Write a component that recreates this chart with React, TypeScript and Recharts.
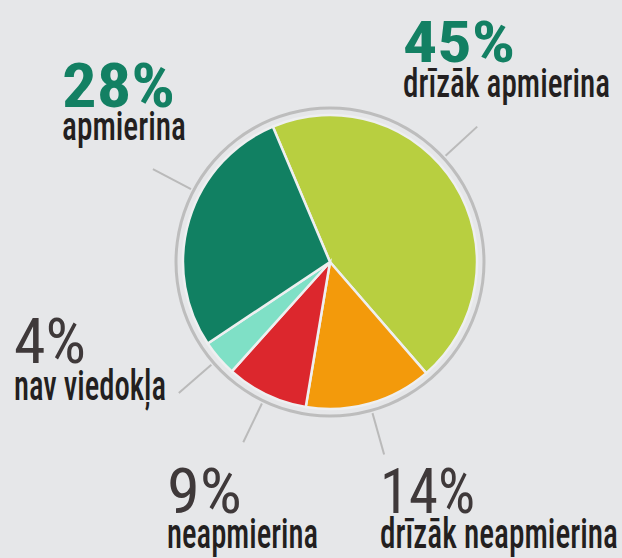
import React from 'react';
import { PieChart, Pie, Cell } from 'recharts';

// survey answers, clockwise from the top
const categories = ['drīzāk apmierina', 'drīzāk neapmierina', 'neapmierina', 'nav viedokļa', 'apmierina'];
const shares = [45, 14, 9, 4, 28];
const percentLabels = ['45%', '14%', '9%', '4%', '28%'];

const ringData = [{ name: 'ring', value: 100 }];

const COLORS = ['#b8cf40', '#f39a0b', '#dc272d', '#7fe0c6', '#118062'];
const BG = '#e6e7e9';
const LINE = '#bababa';
const FONT = "'Liberation Sans Narrow', 'Roboto Condensed', Roboto, 'DejaVu Sans Condensed', sans-serif";

// label placement per slice (text boxes, widths, leader angle nudge)
const LAYOUT = [
  { shift: 10.7, px: 403, py: 62, pw: 112, ps: 57, pc: '#138063', pwt: 700, tx: 403, ty: 97, tw: 207, ts: 40 },
  { shift: 0, px: 380, py: 513, pw: 95, ps: 63, pc: '#3f393a', pwt: 400, tx: 380, ty: 548, tw: 238, ts: 42 },
  { shift: 0, px: 167, py: 513, pw: 75, ps: 63, pc: '#3f393a', pwt: 400, tx: 167, ty: 548, tw: 151, ts: 42 },
  { shift: 0, px: 14, py: 363, pw: 72, ps: 63, pc: '#3f393a', pwt: 400, tx: 14, ty: 400, tw: 152, ts: 42 },
  { shift: -11, px: 62, py: 107, pw: 113, ps: 62, pc: '#138063', pwt: 700, tx: 62, ty: 140, tw: 124, ts: 40 },
];

const data = categories.map((name, i) => ({ name, value: shares[i], pct: percentLabels[i] }));

if (typeof document !== 'undefined') {
  document.body.style.margin = '0';
  document.body.style.background = BG;
}

const RADIAN = Math.PI / 180;

const renderLabel = (props: any) => {
  const { cx, cy, midAngle, index } = props;
  const l = LAYOUT[index];
  const a = (midAngle + l.shift) * RADIAN;
  const x1 = cx + 157 * Math.cos(a);
  const y1 = cy - 157 * Math.sin(a);
  const x2 = cx + 200 * Math.cos(a);
  const y2 = cy - 200 * Math.sin(a);
  return (
    <g key={`lbl-${index}`}>
      <line x1={x1} y1={y1} x2={x2} y2={y2} stroke={LINE} strokeWidth={2} />
      <text
        x={l.px}
        y={l.py}
        fill={l.pc}
        fontSize={l.ps}
        fontWeight={l.pwt}
        fontFamily={FONT}
        textLength={l.pw}
        lengthAdjust="spacingAndGlyphs"
      >
        {percentLabels[index]}
      </text>
      <text
        x={l.tx}
        y={l.ty}
        fill="#231f20"
        fontSize={l.ts}
        fontWeight={500}
        fontFamily={FONT}
        textLength={l.tw}
        lengthAdjust="spacingAndGlyphs"
      >
        {categories[index]}
      </text>
    </g>
  );
};

const App: React.FC = () => {
  return (
    <div style={{ width: 622, height: 558, background: BG }}>
      <PieChart width={622} height={558} margin={{ top: 0, right: 0, bottom: 0, left: 0 }}>
        <Pie
          data={ringData}
          dataKey="value"
          cx={330}
          cy={262}
          innerRadius={152.5}
          outerRadius={155.5}
          fill="#bdbdbd"
          stroke="none"
          isAnimationActive={false}
        />
        <Pie
          data={data}
          dataKey="value"
          cx={330}
          cy={262}
          outerRadius={147}
          startAngle={112.9}
          endAngle={-247.1}
          stroke="#eeeff0"
          strokeWidth={2.5}
          label={renderLabel}
          labelLine={false}
          isAnimationActive={false}
        >
          {data.map((entry, index) => (
            <Cell key={`cell-${index}`} fill={COLORS[index]} />
          ))}
        </Pie>
      </PieChart>
    </div>
  );
};

export default App;
